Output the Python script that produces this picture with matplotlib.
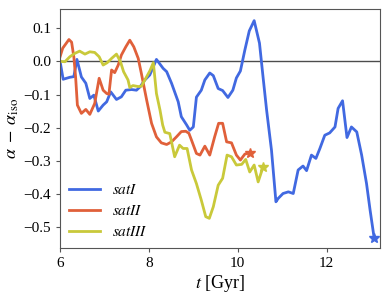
import matplotlib
matplotlib.use('Agg')
import matplotlib.pyplot as plt

# satI
t1 = [6.0, 6.07, 6.22, 6.31, 6.38, 6.48, 6.58, 6.67, 6.76, 6.86, 6.97, 7.05, 7.14, 7.27, 7.38,
      7.48, 7.61, 7.72, 7.80, 7.91, 8.02, 8.17, 8.32, 8.40, 8.51, 8.66, 8.73, 8.85, 8.92, 9.0,
      9.07, 9.18, 9.26, 9.37, 9.45, 9.56, 9.66, 9.78, 9.89, 9.97, 10.06, 10.16, 10.26, 10.37,
      10.49, 10.57, 10.65, 10.76, 10.86, 10.91, 11.02, 11.14, 11.25, 11.36, 11.47, 11.55, 11.66,
      11.76, 11.85, 11.96, 12.07, 12.19, 12.26, 12.36, 12.46, 12.56, 12.68, 12.79, 12.90, 12.98,
      13.07]
a1 = [0.0, -0.054, -0.048, -0.046, 0.006, -0.047, -0.066, -0.112, -0.102, -0.150, -0.132, -0.122,
      -0.092, -0.115, -0.107, -0.087, -0.085, -0.087, -0.077, -0.056, -0.041, 0.006, -0.021,
      -0.031, -0.066, -0.122, -0.167, -0.192, -0.208, -0.198, -0.108, -0.087, -0.056, -0.035,
      -0.043, -0.082, -0.088, -0.109, -0.087, -0.050, -0.029, 0.034, 0.092, 0.123, 0.055, -0.047,
      -0.147, -0.268, -0.424, -0.414, -0.399, -0.394, -0.399, -0.328, -0.316, -0.330, -0.283,
      -0.293, -0.263, -0.223, -0.216, -0.198, -0.142, -0.119, -0.230, -0.198, -0.213, -0.283,
      -0.369, -0.449, -0.532]

# satII
t2 = [6.0, 6.06, 6.20, 6.26, 6.31, 6.35, 6.39, 6.48, 6.58, 6.67, 6.78, 6.88, 6.97, 7.05, 7.10,
      7.16, 7.23, 7.31, 7.38, 7.48, 7.57, 7.66, 7.76, 7.83, 7.95, 8.06, 8.17, 8.28, 8.40, 8.51,
      8.62, 8.73, 8.83, 8.90, 8.96, 9.07, 9.15, 9.26, 9.37, 9.48, 9.57, 9.66, 9.75, 9.86, 9.97,
      10.06, 10.16, 10.27]
a2 = [0.014, 0.040, 0.066, 0.058, 0.014, -0.047, -0.132, -0.157, -0.145, -0.160, -0.127, -0.051,
      -0.087, -0.097, -0.099, -0.026, -0.034, -0.011, 0.019, 0.044, 0.064, 0.044, 0.009, -0.036,
      -0.117, -0.187, -0.228, -0.246, -0.251, -0.243, -0.228, -0.212, -0.211, -0.217, -0.238,
      -0.278, -0.283, -0.256, -0.283, -0.228, -0.187, -0.187, -0.243, -0.246, -0.283, -0.298,
      -0.280, -0.276]

# satIII
t3 = [6.0, 6.11, 6.22, 6.33, 6.44, 6.56, 6.67, 6.78, 6.88, 6.97, 7.06, 7.16, 7.27, 7.36, 7.43,
      7.53, 7.57, 7.64, 7.76, 7.83, 7.93, 8.02, 8.10, 8.17, 8.25, 8.31, 8.36, 8.47, 8.58, 8.69,
      8.77, 8.86, 8.96, 9.07, 9.18, 9.28, 9.36, 9.45, 9.56, 9.66, 9.76, 9.86, 9.97, 10.09, 10.18,
      10.27, 10.37, 10.46, 10.57]
a3 = [0.0, -0.001, 0.014, 0.024, 0.031, 0.022, 0.029, 0.027, 0.014, -0.011, -0.004, 0.009, 0.022,
      -0.001, -0.031, -0.056, -0.079, -0.073, -0.076, -0.075, -0.051, -0.029, -0.004, -0.097,
      -0.147, -0.192, -0.214, -0.218, -0.288, -0.253, -0.263, -0.263, -0.328, -0.369, -0.419,
      -0.469, -0.474, -0.439, -0.374, -0.353, -0.283, -0.288, -0.313, -0.311, -0.296, -0.334,
      -0.313, -0.364, -0.319]

labels = [r'$sat I$', r'$sat II$', r'$sat III$']
colors = ['#4169e1', '#e0603a', '#c9c93a']

plt.rcParams['font.family'] = ['Liberation Serif', 'DejaVu Serif']
plt.rcParams['mathtext.fontset'] = 'stix'

fig = plt.figure(figsize=(3.9, 2.94), dpi=100)
ax = fig.add_axes([0.154, 0.156, 0.82, 0.812])

ax.axhline(0, color='black', lw=1, alpha=0.7, zorder=1)
for t, a, lab, c in zip([t1, t2, t3], [a1, a2, a3], labels, colors):
    ax.plot(t, a, color=c, lw=2.0, label=lab)
    ax.plot(t[-1], a[-1], marker='*', color=c, ms=7, ls='none')

ax.set_xlim(6.0, 13.2)
ax.set_ylim(-0.564, 0.157)
ax.set_xticks([6, 8, 10, 12])
ax.set_yticks([0.1, 0.0, -0.1, -0.2, -0.3, -0.4, -0.5])
ax.tick_params(labelsize=11, length=3, color='#555555')
for s in ax.spines.values():
    s.set_color('#555555')
ax.set_xlabel(r'$t$ [Gyr]', fontsize=13, labelpad=2)
ax.set_ylabel(r'$\alpha\;-\;\alpha_{\rm iso}$', fontsize=13, labelpad=2)
ax.legend(loc='lower left', frameon=False, fontsize=11, handlelength=2.0,
          labelspacing=0.45, bbox_to_anchor=(-0.015, -0.02))

fig.savefig('out.png', dpi=100)
